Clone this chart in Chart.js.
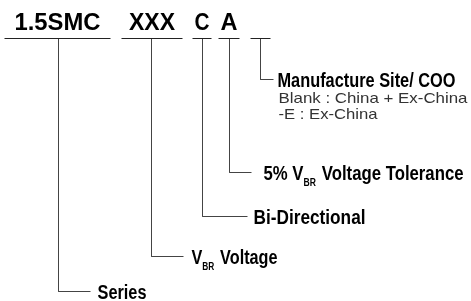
<!DOCTYPE html>
<html>
<head>
<meta charset="utf-8">
<script src="https://cdn.jsdelivr.net/npm/chart.js@4.4.1/dist/chart.umd.min.js"></script>
<style>
  html, body { margin: 0; padding: 0; background: #fff; }
  canvas { display: block; }
</style>
</head>
<body>
<canvas id="chart" width="471" height="301"></canvas>
<script>
// part number pieces and the connector tree (chart units = px of the 471x301 picture)
const codeParts = ['1.5SMC', 'XXX', 'C', 'A', ''];
const underlineFrom = [4, 121, 192, 218, 250];
const underlineTo = [110, 182, 211, 239, 270];
const stemX = [58, 151, 202, 229, 260];
const branchY = [291, 256, 216, 172, 79];
const branchTo = [90, 183, 247, 251, 273];
const labelX = [97, 191, 253, 263, 277];
const labels = ['Series', 'V_{BR} Voltage', 'Bi-Directional', '5% V_{BR} Voltage Tolerance', 'Manufacture Site/ COO'];
const notes = ['Blank : China + Ex-China', '-E : Ex-China'];
const noteY = [97, 113];
const codeLineY = 38;
const codeBaseY = 29;

// measured text widths in the picture, used to condense the font
const codeWidth = [86, 46, 15, 17, 0];
const labelWidth = [49, 86, 112, 200, 178];
const noteWidth = [189, 99];

const FONT = '"Liberation Sans", Arial, sans-serif';

let datasets = [];
for (let i = 0; i < codeParts.length; i++) {
    datasets.push({
        data: [{x: underlineFrom[i], y: codeLineY}, {x: underlineTo[i], y: codeLineY}],
        borderColor: '#222'
    });
    datasets.push({
        data: [{x: stemX[i], y: codeLineY}, {x: stemX[i], y: branchY[i]}, {x: branchTo[i], y: branchY[i]}],
        borderColor: '#444'
    });
}

function runs(str) {
    // "_{..}" marks a subscript
    return str.split(/(_\{[^}]*\})/).filter(p => p).map(p =>
        p.startsWith('_{') ? {t: p.slice(2, -1), sub: true} : {t: p, sub: false});
}

function drawFit(ctx, str, x, y, size, width, weight, align) {
    let rs = runs(str);
    let sizeOf = r => r.sub ? Math.round(size * 0.5) : size;
    let w = 0;
    for (let r of rs) {
        ctx.font = weight + ' ' + sizeOf(r) + 'px ' + FONT;
        r.w = ctx.measureText(r.t).width + (r.sub ? 1.5 : 0);
        w += r.w;
    }
    let k = width ? width / w : 1;
    ctx.save();
    ctx.translate(align === 'center' ? x - width / 2 : x, y);
    ctx.scale(k, 1);
    let cx = 0;
    for (let r of rs) {
        ctx.font = weight + ' ' + sizeOf(r) + 'px ' + FONT;
        ctx.fillText(r.t, cx, r.sub ? size * 0.32 : 0);
        cx += r.w;
    }
    ctx.restore();
}

const textPlugin = {
    id: 'texts',
    afterDatasetsDraw(chart) {
        const ctx = chart.ctx;
        const xs = chart.scales.x, ys = chart.scales.y;
        ctx.save();
        ctx.fillStyle = '#000';
        ctx.textBaseline = 'alphabetic';
        ctx.textAlign = 'left';
        for (let i = 0; i < codeParts.length; i++) {
            if (!codeParts[i]) continue;
            let cx = (underlineFrom[i] + underlineTo[i]) / 2;
            drawFit(ctx, codeParts[i], xs.getPixelForValue(cx), ys.getPixelForValue(codeBaseY), 23, codeWidth[i], 'bold', 'center');
        }
        for (let i = 0; i < labels.length; i++) {
            drawFit(ctx, labels[i], xs.getPixelForValue(labelX[i]), ys.getPixelForValue(branchY[i]) + 7, 19.5, labelWidth[i], 'bold', 'left');
        }
        ctx.fillStyle = '#333';
        for (let i = 0; i < notes.length; i++) {
            drawFit(ctx, notes[i], xs.getPixelForValue(labelX[4] + 1), ys.getPixelForValue(noteY[i]) + 5, 15, noteWidth[i], 'normal', 'left');
        }
        ctx.restore();
    }
};

new Chart(document.getElementById('chart').getContext('2d'), {
    type: 'scatter',
    data: {datasets: datasets},
    options: {
        responsive: false,
        animation: false,
        devicePixelRatio: 1,
        layout: {padding: 0},
        datasets: {scatter: {showLine: true, pointRadius: 0, borderWidth: 1, fill: false}},
        plugins: {legend: {display: false}, tooltip: {enabled: false}},
        scales: {
            x: {type: 'linear', min: -0.5, max: 470.5, display: false},
            y: {type: 'linear', min: -0.5, max: 300.5, reverse: true, display: false}
        }
    },
    plugins: [textPlugin]
});
</script>
</body>
</html>
